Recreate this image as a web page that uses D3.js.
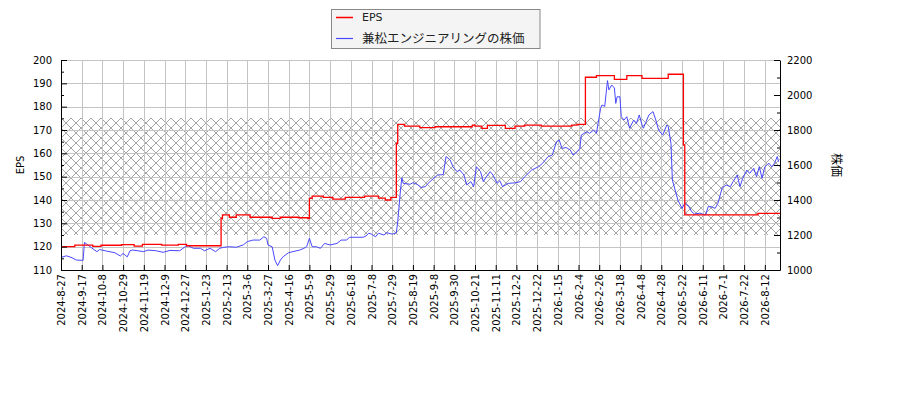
<!DOCTYPE html>
<html><head><meta charset="utf-8">
<script src="https://cdn.jsdelivr.net/npm/d3@7"></script>
<style>
html,body{margin:0;padding:0;background:#fff;}
svg{display:block;font-family:"DejaVu Sans","Noto Sans CJK JP",sans-serif;}
</style></head>
<body><svg id="c" width="900" height="400"></svg>
<script>
// ---- data ----
const xTickLabels = ["2024-8-27","2024-9-17","2024-10-8","2024-10-29","2024-11-19","2024-12-9","2024-12-27","2025-1-23","2025-2-13","2025-3-6","2025-3-27","2025-4-16","2025-5-9","2025-5-29","2025-6-18","2025-7-8","2025-7-29","2025-8-19","2025-9-8","2025-9-30","2025-10-21","2025-11-11","2025-12-2","2025-12-22","2026-1-15","2026-2-4","2026-2-26","2026-3-18","2026-4-8","2026-4-28","2026-5-22","2026-6-11","2026-7-1","2026-7-22","2026-8-12"];
const daysPerTick = 15;
const lastDay = 521;
const epsTicks = [110,120,130,140,150,160,170,180,190,200];
const priceTicks = [1000,1200,1400,1600,1800,2000,2200];
const bandRange = [125,175];
const seriesNames = ["EPS","兼松エンジニアリングの株価"];
const yTitleLeft = "EPS", yTitleRight = "株価";

// EPS step values: [trading-day index, value]
const epsData = [[0,120.0],[10,120.7],[23,120.1],[29,120.6],[44,120.9],[53,120.2],[59,121.0],[73,120.7],[85,121.0],[91,120.4],
[116,132.1],[117,133.6],[122,132.6],[127,133.6],[137,132.6],[153,132.1],[159,132.6],[172,132.4],[179,132.0],
[180,140.7],[182,141.7],[190,141.1],[197,140.4],[206,141.1],[220,141.7],[230,140.8],[235,140.0],[239,141.1],
[243,164.3],[244,172.4],[249,171.7],[260,171.0],[271,171.4],[298,172.1],[300,171.7],[305,170.7],[309,172.0],[322,170.7],[329,171.7],[336,172.1],[348,171.7],[370,172.1],[374,172.4],
[380,192.6],[388,193.3],[401,191.7],[410,193.3],[421,192.1],[440,193.9],
[451,163.6],[452,133.6],[505,134.3],[521,134.3]];

// share price: [trading-day index, price]
const priceData = [[0,1072],[4,1081],[8,1070],[11,1057],[16,1055],[17,1158],[21,1133],[26,1105],[28,1117],[33,1108],[39,1099],[43,1080],[45,1095],[48,1075],[50,1110],[52,1114],[60,1105],[63,1114],[69,1110],[74,1101],[79,1112],[86,1110],[90,1133],[92,1139],[96,1124],[101,1124],[104,1110],[108,1124],[112,1105],[115,1124],[118,1130],[122,1133],[127,1130],[132,1143],[135,1162],[139,1171],[144,1171],[147,1190],[149,1181],[150,1143],[153,1133],[155,1057],[157,1025],[159,1057],[161,1076],[165,1099],[168,1105],[173,1114],[176,1124],[178,1133],[180,1181],[182,1133],[185,1133],[188,1124],[191,1152],[195,1143],[200,1152],[203,1171],[207,1171],[209,1187],[214,1187],[219,1187],[221,1195],[223,1210],[225,1205],[228,1190],[230,1210],[234,1200],[236,1213],[240,1205],[243,1213],[244,1276],[246,1457],[247,1527],[248,1495],[253,1490],[255,1499],[258,1490],[261,1472],[264,1476],[266,1495],[270,1524],[273,1543],[277,1545],[279,1648],[282,1629],[284,1590],[287,1562],[289,1571],[292,1543],[294,1486],[297,1505],[299,1476],[301,1590],[304,1562],[306,1505],[308,1530],[311,1562],[313,1543],[316,1495],[318,1510],[320,1476],[324,1495],[329,1498],[333,1505],[336,1533],[341,1571],[346,1590],[349,1610],[353,1648],[356,1657],[359,1733],[361,1743],[363,1695],[366,1700],[369,1686],[371,1657],[374,1676],[376,1695],[377,1771],[381,1790],[383,1781],[386,1800],[388,1781],[391,1924],[392,1943],[394,1935],[395,2010],[396,2082],[397,2029],[399,2057],[401,2040],[402,1952],[403,1990],[405,1990],[406,1876],[408,1857],[410,1876],[412,1810],[415,1857],[417,1838],[419,1886],[421,1830],[422,1810],[424,1848],[426,1886],[429,1905],[431,1857],[433,1800],[436,1771],[439,1829],[440,1820],[442,1724],[443,1514],[445,1457],[447,1400],[450,1352],[452,1381],[455,1362],[457,1333],[459,1320],[463,1325],[467,1314],[469,1362],[471,1362],[474,1352],[476,1381],[479,1467],[482,1486],[485,1476],[487,1505],[490,1543],[492,1476],[494,1524],[497,1571],[499,1552],[502,1581],[504,1533],[506,1590],[508,1524],[510,1590],[513,1610],[515,1590],[517,1610],[519,1648],[520,1619]];

// ---- chart ----
const L = 61, R = 780, T = 60, B = 270;
const svg = d3.select("#c");
const x = d3.scaleLinear().domain([0, lastDay]).range([L, R]);
const yL = d3.scaleLinear().domain([110, 200]).range([B, T]);
const yR = d3.scaleLinear().domain([1000, 2200]).range([B, T]);
const xTickIdx = xTickLabels.map((d, i) => i * daysPerTick);

// hatch pattern
const defs = svg.append("defs");
const hp = 10;
const bandTop = Math.round(yL(bandRange[1]));
const pat = defs.append("pattern").attr("id", "hatch").attr("patternUnits", "userSpaceOnUse")
  .attr("x", L).attr("y", bandTop).attr("width", hp).attr("height", hp);
pat.append("path").attr("d", `M0,0L${hp},${hp}M${hp},0L0,${hp}`)
  .attr("stroke", "#a4a4a4").attr("stroke-width", 1).attr("fill", "none")
  .attr("shape-rendering", "crispEdges");

svg.append("rect").attr("x", L).attr("y", bandTop)
  .attr("width", R - L).attr("height", Math.round(yL(bandRange[0])) - bandTop)
  .attr("fill", "url(#hatch)");

// grid
const grid = svg.append("g").attr("stroke", "#c4c4c4").attr("stroke-width", 1);
grid.selectAll("line.h").data(epsTicks).join("line").attr("class", "h")
  .attr("x1", L).attr("x2", R).attr("y1", d => Math.round(yL(d)) + 0.5).attr("y2", d => Math.round(yL(d)) + 0.5);
grid.selectAll("line.v").data(xTickIdx).join("line").attr("class", "v")
  .attr("x1", d => Math.round(x(d)) + 0.5).attr("x2", d => Math.round(x(d)) + 0.5).attr("y1", T).attr("y2", B);

// lines
const priceLine = d3.line().x(d => x(d[0])).y(d => yR(d[1]));
svg.append("path").datum(priceData).attr("d", priceLine)
  .attr("fill", "none").attr("stroke", "#4848ff").attr("stroke-width", 1);
const epsLine = d3.line().x(d => x(d[0])).y(d => yL(d[1])).curve(d3.curveStepAfter);
svg.append("path").datum(epsData).attr("d", epsLine)
  .attr("fill", "none").attr("stroke", "#ff0000").attr("stroke-width", 1.3);

// axes
const fs = 10;
function styleAxis(g) {
  g.selectAll("text").attr("font-size", fs).attr("fill", "#000").attr("font-family", "DejaVu Sans");
  g.selectAll("line,path").attr("stroke", "#000");
}
const leftMinor = d3.range(115, 200, 10);
svg.append("g").attr("transform", `translate(${L},0)`)
  .call(d3.axisLeft(yL).tickValues(leftMinor).tickSizeInner(-3).tickSizeOuter(0).tickFormat(""))
  .call(g => g.select(".domain").remove()).call(styleAxis);
svg.append("g").attr("transform", `translate(${L},0)`)
  .call(d3.axisLeft(yL).tickValues(epsTicks).tickSizeInner(-6).tickSizeOuter(0).tickPadding(9))
  .call(styleAxis);

const rightMinor = d3.range(1100, 2200, 200);
svg.append("g").attr("transform", `translate(${R},0)`)
  .call(d3.axisRight(yR).tickValues(rightMinor).tickSizeInner(-3).tickSizeOuter(0).tickFormat(""))
  .call(g => g.select(".domain").remove()).call(styleAxis);
svg.append("g").attr("transform", `translate(${R},0)`)
  .call(d3.axisRight(yR).tickValues(priceTicks).tickSizeInner(-6).tickSizeOuter(0).tickPadding(7)
    .tickFormat(d3.format("d")))
  .call(styleAxis);

const xa = svg.append("g").attr("transform", `translate(0,${B})`)
  .call(d3.axisBottom(x).tickValues(xTickIdx).tickSizeInner(-5).tickSizeOuter(0)
    .tickFormat((d, i) => xTickLabels[i]))
  .call(styleAxis);
xa.selectAll(".tick text").attr("transform", "rotate(-90)").attr("text-anchor", "end")
  .attr("x", -4).attr("y", 0).attr("dy", "0.35em");

// axis titles
svg.append("text").attr("transform", `translate(20,${(T + B) / 2}) rotate(-90)`)
  .attr("text-anchor", "middle").attr("dy", "0.35em").attr("font-size", 10).text(yTitleLeft);
svg.append("text").attr("transform", `translate(836,${(T + B) / 2}) rotate(90)`)
  .attr("text-anchor", "middle").attr("dy", "0.35em").attr("font-size", 12)
  .attr("font-family", "Noto Sans CJK JP").text(yTitleRight);

// legend
const lg = svg.append("g");
lg.append("rect").attr("x", 331.5).attr("y", 9.5).attr("width", 208.5).attr("height", 39)
  .attr("fill", "#f4f4f4").attr("stroke", "#888");
const lcolors = ["#ff0000", "#4848ff"];
seriesNames.forEach((n, i) => {
  const yy = 17.5 + i * 21;
  lg.append("line").attr("x1", 336).attr("x2", 353).attr("y1", yy).attr("y2", yy)
    .attr("stroke", lcolors[i]).attr("stroke-width", i === 0 ? 1.5 : 1.2);
  lg.append("text").attr("x", 362).attr("y", yy).attr("dy", "0.36em")
    .attr("font-size", i === 0 ? 11 : 12.5).attr("fill", "#222").text(n);
});
</script></body></html>
